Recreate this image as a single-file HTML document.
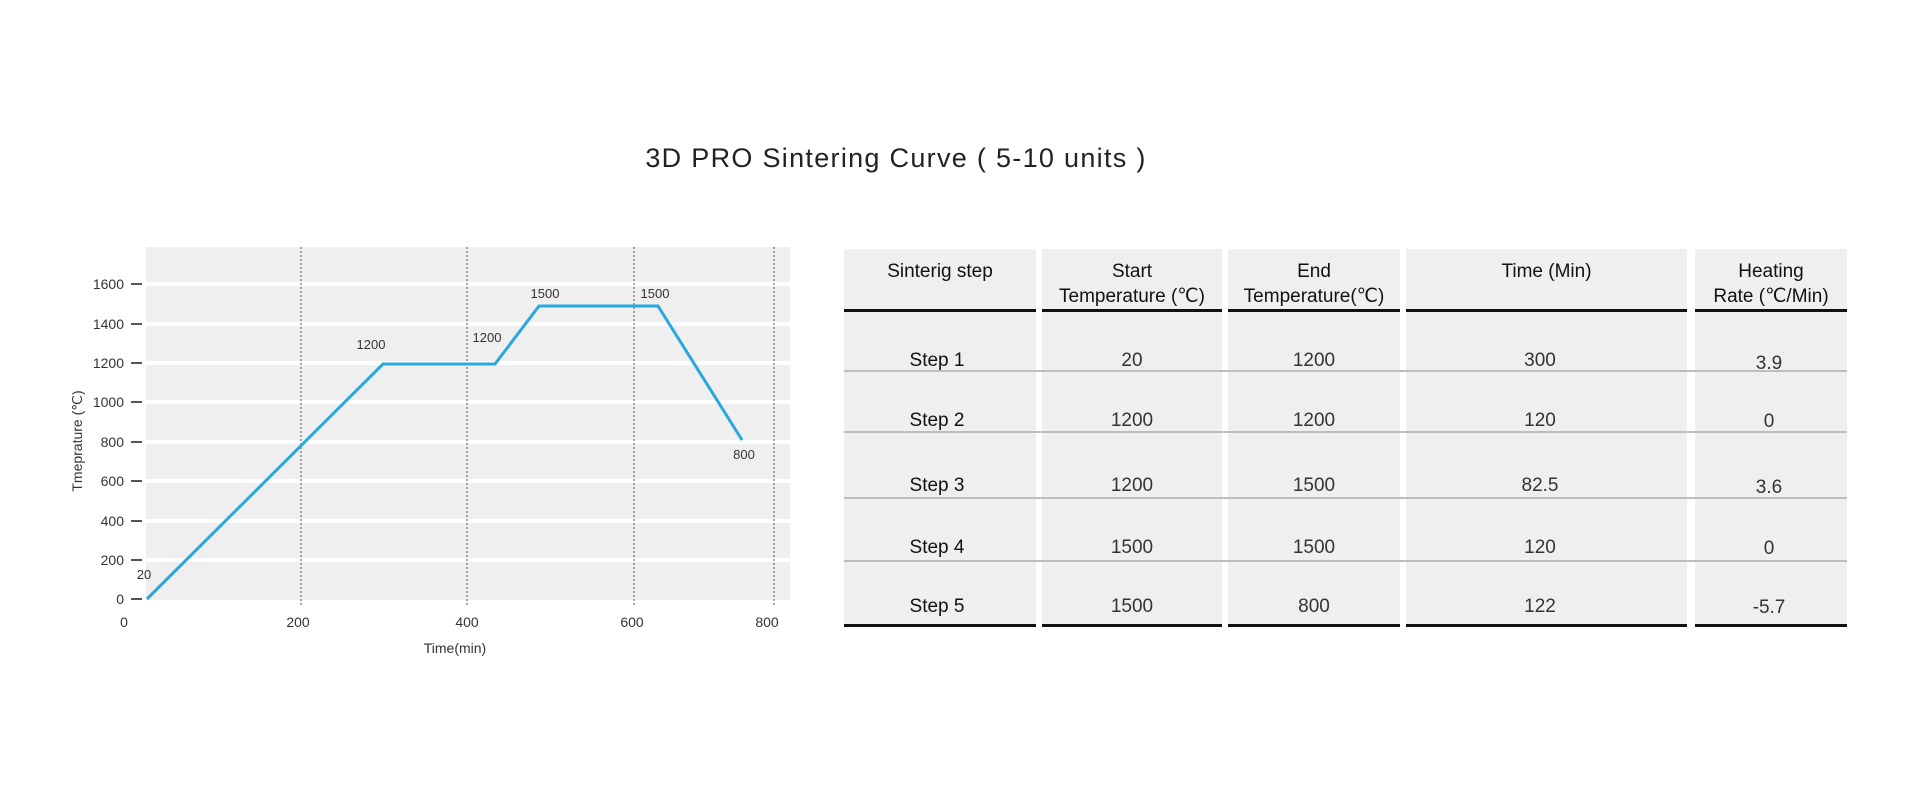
<!DOCTYPE html>
<html><head><meta charset="utf-8"><style>
body{margin:0;width:1920px;height:800px;background:#fff;position:relative;overflow:hidden;font-family:"Liberation Sans",sans-serif;}
.t{position:absolute;white-space:nowrap;}
.title{left:0;width:1792px;text-align:center;top:143px;font-size:27px;color:#222;letter-spacing:1.3px}
.cell{position:absolute;background:#efefef;}
.h{position:absolute;text-align:center;font-size:19px;color:#111;line-height:25px}
.v{position:absolute;text-align:center;font-size:19px;color:#333;transform:translateY(-50%)}
.thick{position:absolute;height:3px;background:#111}
.thin{position:absolute;height:2px;background:#bdbdbd}
</style></head><body>
<div class="t title">3D PRO Sintering Curve ( 5-10 units )</div>

<svg width="1920" height="800" style="position:absolute;left:0;top:0" font-family="Liberation Sans, sans-serif">
<rect x="146" y="247" width="644" height="353" fill="#efefef"/>
<g stroke="#fff" stroke-width="4">
<line x1="146" x2="790" y1="284" y2="284"/>
<line x1="146" x2="790" y1="324" y2="324"/>
<line x1="146" x2="790" y1="363" y2="363"/>
<line x1="146" x2="790" y1="402" y2="402"/>
<line x1="146" x2="790" y1="442" y2="442"/>
<line x1="146" x2="790" y1="481" y2="481"/>
<line x1="146" x2="790" y1="521" y2="521"/>
<line x1="146" x2="790" y1="560" y2="560"/>
</g>
<g stroke="#777" stroke-width="1.3" stroke-dasharray="2,2">
<line x1="301" x2="301" y1="247" y2="605"/>
<line x1="467" x2="467" y1="247" y2="605"/>
<line x1="634" x2="634" y1="247" y2="605"/>
<line x1="774" x2="774" y1="247" y2="605"/>
</g>
<g stroke="#555" stroke-width="2">
<line x1="131" x2="142" y1="284" y2="284"/>
<line x1="131" x2="142" y1="324" y2="324"/>
<line x1="131" x2="142" y1="363" y2="363"/>
<line x1="131" x2="142" y1="402" y2="402"/>
<line x1="131" x2="142" y1="442" y2="442"/>
<line x1="131" x2="142" y1="481" y2="481"/>
<line x1="131" x2="142" y1="521" y2="521"/>
<line x1="131" x2="142" y1="560" y2="560"/>
<line x1="131" x2="142" y1="599" y2="599"/>
</g>
<g font-size="14" fill="#333" text-anchor="end">
<text x="124" y="289">1600</text><text x="124" y="329">1400</text><text x="124" y="368">1200</text>
<text x="124" y="407">1000</text><text x="124" y="447">800</text><text x="124" y="486">600</text>
<text x="124" y="526">400</text><text x="124" y="565">200</text><text x="124" y="604">0</text>
</g>
<g font-size="14" fill="#333" text-anchor="middle">
<text x="124" y="627">0</text><text x="298" y="627">200</text><text x="467" y="627">400</text>
<text x="632" y="627">600</text><text x="767" y="627">800</text>
<text x="455" y="653">Time(min)</text>
</g>
<text transform="translate(82,441) rotate(-90)" font-size="14" fill="#333" text-anchor="middle">Tmeprature (℃)</text>
<polyline points="147,599 383,364 495,364 539,306 658,306 742,440" fill="none" stroke="#29a8e0" stroke-width="3"/>
<g font-size="13" fill="#333" text-anchor="middle">
<text x="144" y="579">20</text><text x="371" y="349">1200</text><text x="487" y="342">1200</text>
<text x="545" y="298">1500</text><text x="655" y="298">1500</text><text x="744" y="459">800</text>
</g>
</svg>

<div class="cell" style="left:844px;top:249px;width:192px;height:376px"></div>
<div class="cell" style="left:1042px;top:249px;width:180px;height:376px"></div>
<div class="cell" style="left:1228px;top:249px;width:172px;height:376px"></div>
<div class="cell" style="left:1406px;top:249px;width:281px;height:376px"></div>
<div class="cell" style="left:1695px;top:249px;width:152px;height:376px"></div>

<div class="thick" style="left:844px;width:192px;top:309px"></div>
<div class="thick" style="left:1042px;width:180px;top:309px"></div>
<div class="thick" style="left:1228px;width:172px;top:309px"></div>
<div class="thick" style="left:1406px;width:281px;top:309px"></div>
<div class="thick" style="left:1695px;width:152px;top:309px"></div>
<div class="thick" style="left:844px;width:192px;top:624px"></div>
<div class="thick" style="left:1042px;width:180px;top:624px"></div>
<div class="thick" style="left:1228px;width:172px;top:624px"></div>
<div class="thick" style="left:1406px;width:281px;top:624px"></div>
<div class="thick" style="left:1695px;width:152px;top:624px"></div>

<div class="thin" style="left:844px;width:1003px;top:370px"></div>
<div class="thin" style="left:844px;width:1003px;top:431px"></div>
<div class="thin" style="left:844px;width:1003px;top:497px"></div>
<div class="thin" style="left:844px;width:1003px;top:560px"></div>

<div class="h" style="left:844px;width:192px;top:259px">Sinterig step</div>
<div class="h" style="left:1042px;width:180px;top:259px">Start<br>Temperature (℃)</div>
<div class="h" style="left:1228px;width:172px;top:259px">End<br>Temperature(℃)</div>
<div class="h" style="left:1406px;width:281px;top:259px">Time (Min)</div>
<div class="h" style="left:1695px;width:152px;top:259px">Heating<br>Rate (℃/Min)</div>

<div class="v" style="left:844px;width:186px;top:361px;color:#111">Step 1</div>
<div class="v" style="left:1042px;width:180px;top:361px">20</div>
<div class="v" style="left:1228px;width:172px;top:361px">1200</div>
<div class="v" style="left:1406px;width:268px;top:361px">300</div>
<div class="v" style="left:1695px;width:148px;top:364px">3.9</div>

<div class="v" style="left:844px;width:186px;top:421px;color:#111">Step 2</div>
<div class="v" style="left:1042px;width:180px;top:421px">1200</div>
<div class="v" style="left:1228px;width:172px;top:421px">1200</div>
<div class="v" style="left:1406px;width:268px;top:421px">120</div>
<div class="v" style="left:1695px;width:148px;top:422px">0</div>

<div class="v" style="left:844px;width:186px;top:486px;color:#111">Step 3</div>
<div class="v" style="left:1042px;width:180px;top:486px">1200</div>
<div class="v" style="left:1228px;width:172px;top:486px">1500</div>
<div class="v" style="left:1406px;width:268px;top:486px">82.5</div>
<div class="v" style="left:1695px;width:148px;top:488px">3.6</div>

<div class="v" style="left:844px;width:186px;top:548px;color:#111">Step 4</div>
<div class="v" style="left:1042px;width:180px;top:548px">1500</div>
<div class="v" style="left:1228px;width:172px;top:548px">1500</div>
<div class="v" style="left:1406px;width:268px;top:548px">120</div>
<div class="v" style="left:1695px;width:148px;top:549px">0</div>

<div class="v" style="left:844px;width:186px;top:607px;color:#111">Step 5</div>
<div class="v" style="left:1042px;width:180px;top:607px">1500</div>
<div class="v" style="left:1228px;width:172px;top:607px">800</div>
<div class="v" style="left:1406px;width:268px;top:607px">122</div>
<div class="v" style="left:1695px;width:148px;top:608px">-5.7</div>
</body></html>
